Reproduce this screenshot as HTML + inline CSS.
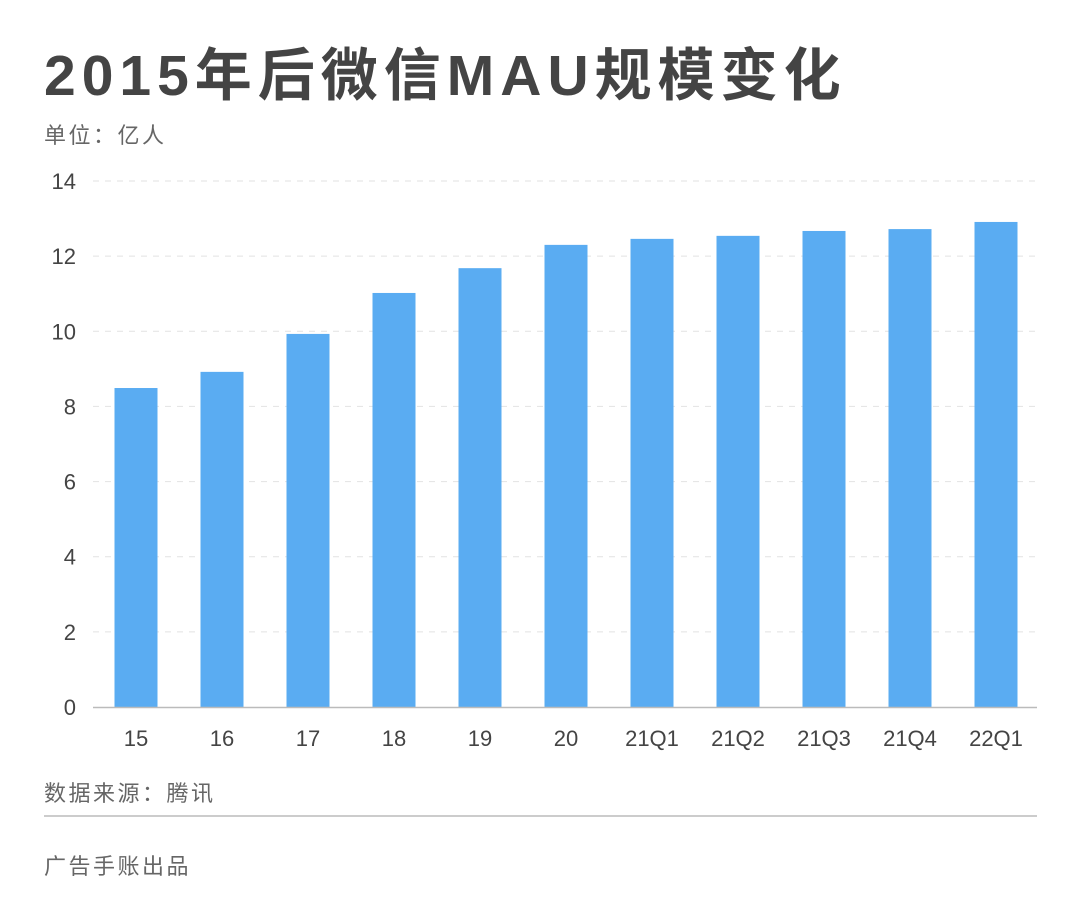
<!DOCTYPE html>
<html><head><meta charset="utf-8"><style>
body{margin:0;background:#fff;width:1080px;height:918px;overflow:hidden;font-family:"Liberation Sans","Noto Sans CJK SC",sans-serif;}
.t{position:absolute;left:44px;top:30px;font-size:57px;font-weight:bold;color:#444;letter-spacing:6px}
.s{position:absolute;left:44px;font-size:22px;color:#666;letter-spacing:2.5px}
</style></head><body>
<div class="t">2015年后微信MAU规模变化</div>
<div class="s" style="top:118px">单位：亿人</div>
<svg id="c" width="1080" height="918" style="position:absolute;left:0;top:0"></svg>
<div class="s" style="top:776px">数据来源：腾讯</div>
<div style="position:absolute;left:44px;top:815px;width:993px;height:2px;background:#ccc"></div>
<div class="s" style="top:849px">广告手账出品</div>
<script>
const categories=["15","16","17","18","19","20","21Q1","21Q2","21Q3","21Q4","22Q1"];
const values=[8.49,8.92,9.93,11.02,11.68,12.30,12.46,12.54,12.67,12.72,12.91];
const yTicks=[0,2,4,6,8,10,12,14];
const svg=document.getElementById('c');const NS="http://www.w3.org/2000/svg";
const x0=93,step=86,bw=43,yb=707,yt=181,ymax=14;
const y=v=>yb-(yb-yt)*v/ymax;
function mk(t,a){const e=document.createElementNS(NS,t);for(const k in a)e.setAttribute(k,a[k]);svg.appendChild(e);return e;}
yTicks.forEach(v=>{
 if(v>0){const g=mk('line',{x1:93,x2:1037,y1:y(v),y2:y(v),stroke:'#e2e2e2','stroke-dasharray':'6,6'});
 
 }
 const t=mk('text',{x:76,y:y(v)+8,'text-anchor':'end','font-size':22,fill:'#444','font-family':'Liberation Sans, sans-serif'});t.textContent=v;
 
 
});
categories.forEach((c,i)=>{
 const cx=x0+step*i+step/2;
 const r=mk('rect',{x:cx-bw/2,y:y(values[i]),width:bw,height:yb-y(values[i]),fill:'#5aacf2'});
 
 
 const t=mk('text',{x:cx,y:746,'text-anchor':'middle','font-size':22,fill:'#444','font-family':'Liberation Sans, sans-serif'});t.textContent=c;
 
 
});
const ax=mk('line',{x1:93,x2:1037,y1:yb+0.5,y2:yb+0.5,stroke:'#bbb','stroke-width':1.5});


</script>
</body></html>
